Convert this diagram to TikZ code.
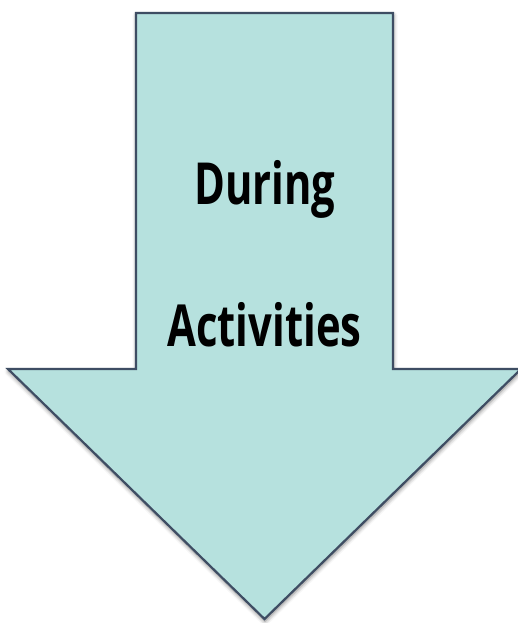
\documentclass[tikz,border=0pt]{standalone}
\usepackage{fontspec}
\setmainfont{Open Sans}
\usetikzlibrary{shadows.blur}
\definecolor{arrowfill}{HTML}{B6E1DE}
\definecolor{arrowline}{HTML}{3E4D63}
\tikzset{
  bigarrow/.style={fill=arrowfill, draw=arrowline, line width=2.2pt, line join=miter,
    blur shadow={shadow xshift=0.5pt, shadow yshift=-2.5pt, shadow blur radius=4pt, shadow opacity=50}},
  label/.style={anchor=base, font=\bfseries\fontsize{58}{62}\selectfont, xscale=0.72, inner sep=0pt}
}
\begin{document}
\begin{tikzpicture}[x=1pt,y=-1pt]
\useasboundingbox (0,0) rectangle (518,623);
\path[bigarrow] (136,13) -- (393,13) -- (393,369) -- (521,369) -- (264.5,619) -- (8,369) -- (136,369) -- cycle;
\node[label] (during) at (265,204) {During};
\node[label] (activities) at (264.5,346) {Activities};
\end{tikzpicture}
\end{document}
